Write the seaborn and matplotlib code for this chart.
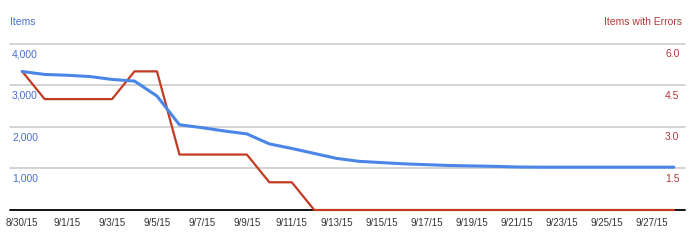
import matplotlib
matplotlib.use("Agg")
import matplotlib.pyplot as plt
import seaborn as sns
import pandas as pd
import numpy as np

dates = pd.date_range("2015-08-30", "2015-09-28", freq="D")
items = [3330, 3260, 3240, 3210, 3140, 3100, 2740, 2050, 1980, 1900, 1830,
         1590, 1480, 1360, 1240, 1170, 1140, 1110, 1090, 1070, 1060, 1050,
         1035, 1030, 1030, 1030, 1030, 1030, 1030, 1030]
errors = [5, 4, 4, 4, 4, 5, 5, 2, 2, 2, 2, 1, 1, 0, 0, 0, 0, 0, 0, 0,
          0, 0, 0, 0, 0, 0, 0, 0, 0, 0]
tick_dates = pd.date_range("2015-08-30", "2015-09-27", freq="2D")
tick_labels = [f"{d.month}/{d.day}/15" for d in tick_dates]
left_ticks = [1000, 2000, 3000, 4000]
left_labels = ["1,000", "2,000", "3,000", "4,000"]
right_ticks = [1.5, 3.0, 4.5, 6.0]
right_labels = ["1.5", "3.0", "4.5", "6.0"]

df = pd.DataFrame({"date": dates, "items": items, "errors": errors})

sns.set_theme(style="white")
plt.rcParams["font.family"] = ["Liberation Sans Narrow", "Liberation Sans", "DejaVu Sans"]

BLUE = "#4a86e8"
RED = "#c23b22"
BLUE_TXT = "#4a6fd0"
RED_TXT = "#b03a3a"

fig = plt.figure(figsize=(7, 2.5), dpi=100)
ax = fig.add_axes([10/700, 40/250, 675/700, 168/250])
ax2 = ax.twinx()

ymax = 4040
ax.set_ylim(0, ymax)
ax2.set_ylim(0, 6 * ymax / 4000)

for v in left_ticks:
    ax2.axhline(v * 6 / 4000, color="#cccccc", lw=1.2, zorder=0)
ax2.axhline(0, color="black", lw=1.3, zorder=1, clip_on=False)

sns.lineplot(data=df, x="date", y="errors", ax=ax2, color=RED, lw=1.6, zorder=3)
for ln in ax2.get_lines():
    ln.set_clip_on(False)
sns.lineplot(data=df, x="date", y="items", ax=ax, color=BLUE, lw=2.2, zorder=4)
ax.set_zorder(ax2.get_zorder() + 1)
ax.patch.set_visible(False)

xl = (dates[0] - pd.Timedelta(hours=13), dates[-1] + pd.Timedelta(hours=12))
ax.set_xlim(xl)
ax2.set_xlim(xl)

for a in (ax, ax2):
    for s in ("top", "left", "right", "bottom"):
        a.spines[s].set_visible(False)
    a.set_ylabel("")
    a.set_xlabel("")
    a.set_yticks([])

ax.set_xticks(tick_dates)
ax.set_xticklabels(tick_labels, fontsize=7, color="#333333")
ax.tick_params(axis="x", length=0, pad=6)

ytr = ax.get_yaxis_transform()
for v, lab in zip(left_ticks, left_labels):
    ax.annotate(lab, xy=(0, v), xycoords=ytr, xytext=(1.5, -4), textcoords="offset points",
                ha="left", va="top", fontsize=7.5, color=BLUE_TXT)
ytr2 = ax2.get_yaxis_transform()
for v, lab in zip(right_ticks, right_labels):
    ax2.annotate(lab, xy=(1, v), xycoords=ytr2, xytext=(-4, -4), textcoords="offset points",
                 ha="right", va="top", fontsize=7.5, color=RED_TXT)

fig.text(10/700, 1 - 22/250, "Items", ha="left", va="center", fontsize=7.5, color=BLUE_TXT)
fig.text(682/700, 1 - 22/250, "Items with Errors", ha="right", va="center", fontsize=7.5, color=RED_TXT)

fig.savefig("out.png", dpi=100)
